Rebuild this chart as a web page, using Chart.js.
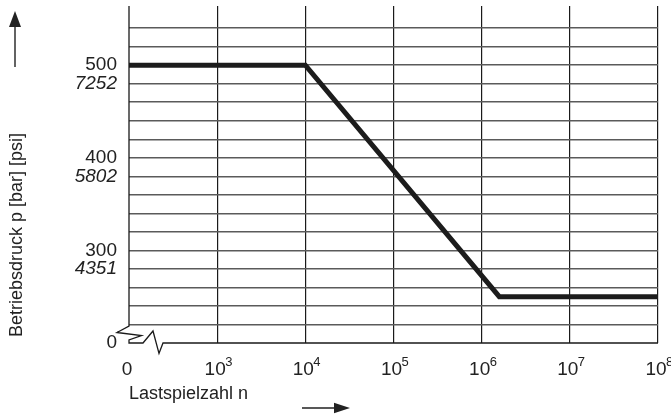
<!DOCTYPE html>
<html>
<head>
<meta charset="utf-8">
<script src="https://cdn.jsdelivr.net/npm/chart.js@4.4.1/dist/chart.umd.min.js"></script>
<style>
    html, body { margin: 0; padding: 0; background: #fff; }
    #wrap { position: relative; width: 671px; height: 416px; }
</style>
</head>
<body>
<div id="wrap"><canvas id="chart"></canvas></div>
<script>
// Lastspielzahl n als log10-Position (2 = "0" links vom Achsbruch)
const lastspielLog = [2, 4, 6.2, 8];
const druckBar     = [500, 500, 250, 250];

const xTickValues   = [2, 3, 4, 5, 6, 7, 8];
const xTickExponent = ['', '3', '4', '5', '6', '7', '8'];

const yBarTicks  = [500, 400, 300];
const yPsiTicks  = [480, 380, 280];
const yPsiLabels = ['7252', '5802', '4351'];
const yZero      = 200;

const FONT = "'Liberation Sans', Arial, sans-serif";
const INK  = '#222';

// Achsbruch, Hochzahlen, Achstitel links und Pfeile
const decor = {
    id: 'decor',
    afterDraw(chart) {
        const { ctx, chartArea: a, scales: { x, y } } = chart;
        const bottom = y.getPixelForValue(yZero);
        ctx.save();

        ctx.strokeStyle = '#1a1a1a';
        ctx.lineWidth   = 1.3;
        ctx.beginPath();
        ctx.moveTo(a.left, a.top);
        ctx.lineTo(a.left, bottom - 17);
        ctx.lineTo(a.left - 12, bottom - 10.5);
        ctx.lineTo(a.left + 12.5, bottom - 7.5);
        ctx.lineTo(a.left, bottom - 3);
        ctx.lineTo(a.left, bottom);
        ctx.lineTo(a.left + 14, bottom);
        ctx.lineTo(a.left + 24, bottom - 12);
        ctx.lineTo(a.left + 30, bottom + 10.5);
        ctx.lineTo(a.left + 34, bottom);
        ctx.lineTo(a.right, bottom);
        ctx.stroke();

        ctx.fillStyle    = INK;
        ctx.font         = `13px ${FONT}`;
        ctx.textAlign    = 'left';
        ctx.textBaseline = 'alphabetic';
        xTickValues.forEach((v, i) => {
            if (!xTickExponent[i]) return;
            ctx.fillText(xTickExponent[i], x.getPixelForValue(v) + 8, 366);
        });

        ctx.save();
        ctx.translate(17, 235);
        ctx.rotate(-Math.PI / 2);
        ctx.font         = `18px ${FONT}`;
        ctx.textAlign    = 'center';
        ctx.textBaseline = 'middle';
        ctx.fillText('Betriebsdruck p [bar] [psi]', 0, 0);
        ctx.restore();

        ctx.strokeStyle = INK;
        ctx.lineWidth   = 1.4;
        ctx.beginPath();
        ctx.moveTo(15, 67);
        ctx.lineTo(15, 24);
        ctx.moveTo(302, 408);
        ctx.lineTo(337, 408);
        ctx.stroke();

        ctx.beginPath();
        ctx.moveTo(15, 11);
        ctx.lineTo(9, 27);
        ctx.lineTo(21, 27);
        ctx.closePath();
        ctx.moveTo(350, 408);
        ctx.lineTo(334, 402.7);
        ctx.lineTo(334, 413.3);
        ctx.closePath();
        ctx.fill();

        ctx.restore();
    }
};

new Chart(document.getElementById('chart'), {
    type: 'line',
    data: {
        datasets: [{
            label: 'Betriebsdruck',
            data: lastspielLog.map((v, i) => ({ x: v, y: druckBar[i] })),
            borderColor: '#1c1c1c',
            borderWidth: 5,
            pointRadius: 0,
            tension: 0,
        }],
    },
    options: {
        responsive: true,
        maintainAspectRatio: false,
        animation: false,
        layout: { padding: { top: 6, right: 13, left: 0, bottom: 0 } },
        plugins: { legend: { display: false }, tooltip: { enabled: false } },
        scales: {
            x: {
                type: 'linear',
                min: 2,
                max: 8,
                afterBuildTicks: s => { s.ticks = xTickValues.map(v => ({ value: v })); },
                afterFit: s => { s.height = 73; s.paddingLeft = 0; s.paddingRight = 0; },
                border: { display: false },
                grid: {
                    color: c => (c.tick && c.tick.value === 2) ? 'rgba(0,0,0,0)' : '#1a1a1a',
                    lineWidth: 1.2,
                    drawTicks: false,
                },
                ticks: {
                    autoSkip: false,
                    maxRotation: 0,
                    padding: 15,
                    labelOffset: -2,
                    color: INK,
                    font: { family: FONT, size: 19 },
                    callback: v => v === 2 ? '0' : '10',
                },
                title: {
                    display: true,
                    text: 'Lastspielzahl n',
                    align: 'start',
                    color: INK,
                    font: { family: FONT, size: 18 },
                    padding: { top: 0, bottom: 11 },
                },
            },
            y: {
                type: 'linear',
                min: 200,
                max: 563.9,
                afterBuildTicks: s => { s.ticks = s.ticks.filter(t => t.value % 20 === 0); },
                afterFit: s => { s.width = 129; s.paddingTop = 0; s.paddingBottom = 0; },
                border: { display: false },
                grid: {
                    color: c => (c.tick && c.tick.value === yZero) ? 'rgba(0,0,0,0)' : '#5a5a5a',
                    lineWidth: 1.5,
                    drawTicks: false,
                },
                ticks: {
                    stepSize: 20,
                    autoSkip: false,
                    padding: 12,
                    color: INK,
                    font: c => ({
                        family: FONT,
                        size: 19,
                        style: (c.tick && yPsiTicks.includes(c.tick.value)) ? 'italic' : 'normal',
                    }),
                    callback: v => {
                        if (yBarTicks.includes(v)) return String(v);
                        const i = yPsiTicks.indexOf(v);
                        if (i >= 0) return yPsiLabels[i];
                        if (v === yZero) return '0';
                        return '';
                    },
                },
            },
        },
    },
    plugins: [decor],
});
</script>
</body>
</html>
